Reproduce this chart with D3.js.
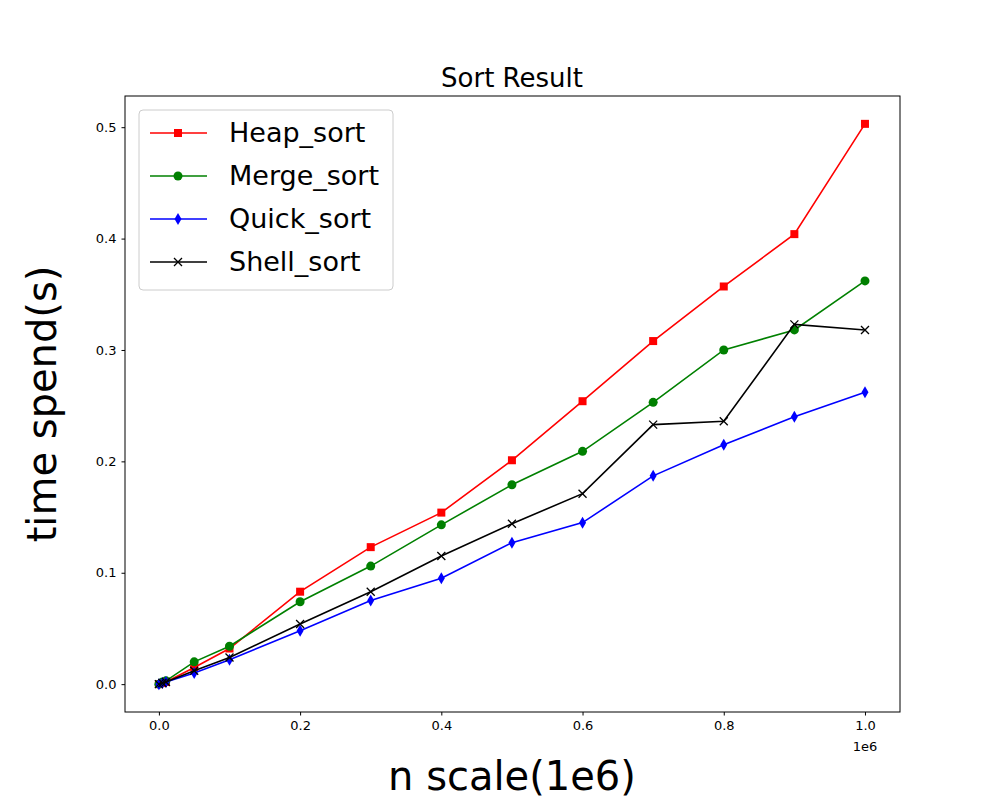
<!DOCTYPE html><html><head><script src="https://d3js.org/d3.v7.min.js"></script>
<style>body{margin:0;background:#fff}text{font-family:"DejaVu Sans",sans-serif}</style></head><body><svg id="c" width="1000" height="800"></svg>
<script>
const nValues=[0,5000,10000,50000,100000,200000,300000,400000,500000,600000,700000,800000,900000,1000000];
const heapSort=[0,0.001,0.002,0.015,0.032,0.083,0.123,0.154,0.201,0.254,0.308,0.357,0.404,0.503];
const mergeSort=[0,0.002,0.003,0.020,0.034,0.074,0.106,0.143,0.179,0.209,0.253,0.300,0.318,0.362];
const quickSort=[0,0.001,0.002,0.010,0.022,0.048,0.075,0.095,0.127,0.145,0.187,0.215,0.240,0.262];
const shellSort=[0,0.001,0.002,0.012,0.024,0.054,0.083,0.115,0.144,0.171,0.233,0.236,0.323,0.318];
const seriesNames=["Heap_sort","Merge_sort","Quick_sort","Shell_sort"];
const colors=["#ff0000","#008000","#0000ff","#000000"];
const markers=["square","circle","diamond","x"];
const xTicks=[0,0.2e6,0.4e6,0.6e6,0.8e6,1e6];
const yTicks=[0,0.1,0.2,0.3,0.4,0.5];
const series=[heapSort,mergeSort,quickSort,shellSort];
const svg=d3.select("#c");
const L=125,R=900,T=96,B=712;
const x=d3.scaleLinear().domain([-0.048e6,1.0496e6]).range([L,R]);
const y=d3.scaleLinear().domain([-0.025,0.528]).range([B,T]);
svg.append("g").attr("transform",`translate(0,${B})`).call(d3.axisBottom(x).tickValues(xTicks).tickFormat(d=>(d/1e6).toFixed(1)).tickSize(3.5).tickPadding(5))
 .call(g=>g.selectAll("text").attr("font-size",13).attr("fill","#000"));
svg.append("g").attr("transform",`translate(${L},0)`).call(d3.axisLeft(y).tickValues(yTicks).tickFormat(d3.format(".1f")).tickSize(3.5).tickPadding(5))
 .call(g=>g.selectAll("text").attr("font-size",13).attr("fill","#000"));
svg.selectAll(".domain").remove();
svg.append("rect").attr("x",L).attr("y",T).attr("width",R-L).attr("height",B-T).attr("fill","none").attr("stroke","#000").attr("stroke-width",1);
svg.append("text").attr("x",865).attr("y",751).attr("text-anchor","middle").attr("font-size",13).text("1e6");
svg.append("text").attr("x",512).attr("y",87).attr("text-anchor","middle").attr("font-size",26).text("Sort Result");
svg.append("text").attr("x",512).attr("y",790).attr("text-anchor","middle").attr("font-size",40).text("n scale(1e6)");
svg.append("text").attr("transform","translate(56,404) rotate(-90)").attr("text-anchor","middle").attr("font-size",40).text("time spend(s)");
function marker(g,type,c){
 if(type==="square")g.append("rect").attr("x",-4).attr("y",-4).attr("width",8).attr("height",8).attr("fill",c);
 else if(type==="circle")g.append("circle").attr("r",4.5).attr("fill",c);
 else if(type==="diamond")g.append("path").attr("d","M0,-6L3.5,0L0,6L-3.5,0Z").attr("fill",c);
 else g.append("path").attr("d","M-4,-4L4,4M-4,4L4,-4").attr("stroke",c).attr("stroke-width",1.3);
}
const line=d3.line().x((d,i)=>x(nValues[i])).y(d=>y(d));
series.forEach((s,k)=>{
 svg.append("path").datum(s).attr("d",line).attr("fill","none").attr("stroke",colors[k]).attr("stroke-width",1.6);
 s.forEach((v,i)=>marker(svg.append("g").attr("transform",`translate(${x(nValues[i])},${y(v)})`),markers[k],colors[k]));
});
const lg=svg.append("g");
lg.append("rect").attr("x",139).attr("y",110).attr("width",254).attr("height",180).attr("rx",4).attr("fill","#fff").attr("fill-opacity",0.8).attr("stroke","#ccc");
seriesNames.forEach((n,k)=>{
 const yy=133+k*43;
 lg.append("line").attr("x1",150).attr("x2",207).attr("y1",yy).attr("y2",yy).attr("stroke",colors[k]).attr("stroke-width",1.6);
 marker(lg.append("g").attr("transform",`translate(178,${yy})`),markers[k],colors[k]);
 lg.append("text").attr("x",229).attr("y",yy+9).attr("font-size",27).text(n);
});
</script></body></html>
